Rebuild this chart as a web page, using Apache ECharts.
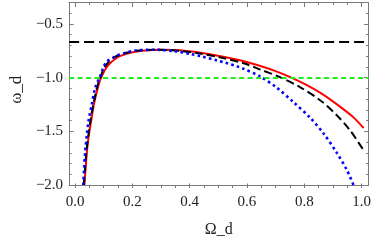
<!DOCTYPE html>
<html><head><meta charset="utf-8">
<script src="https://cdn.jsdelivr.net/npm/echarts@6/dist/echarts.min.js"></script>
<style>html,body{margin:0;padding:0;background:#fff}#c{width:374px;height:243px}</style>
</head><body><div id="c"></div>
<script>
// Data
const redX = [0.029, 0.037, 0.043, 0.052, 0.061, 0.075, 0.087, 0.11, 0.145, 0.185, 0.23, 0.295, 0.36, 0.433, 0.503, 0.57, 0.63, 0.687, 0.745, 0.803, 0.861, 0.918, 0.965, 1.0];
const redY = [-2.0, -1.71, -1.56, -1.41, -1.26, -1.10, -1.0, -0.89, -0.81, -0.77, -0.75, -0.74, -0.745, -0.768, -0.80, -0.838, -0.882, -0.932, -0.995, -1.07, -1.16, -1.27, -1.37, -1.469];
const blackX = [0.027, 0.035, 0.042, 0.05, 0.06, 0.072, 0.085, 0.105, 0.14, 0.18, 0.23, 0.29, 0.36, 0.43, 0.5, 0.583, 0.641, 0.711, 0.78, 0.849, 0.907, 0.953, 1.0];
const blackY = [-2.0, -1.71, -1.55, -1.40, -1.25, -1.10, -0.99, -0.88, -0.80, -0.765, -0.745, -0.74, -0.75, -0.775, -0.81, -0.866, -0.925, -0.997, -1.09, -1.21, -1.35, -1.49, -1.676];
const blueX = [0.025, 0.031, 0.043, 0.054, 0.066, 0.084, 0.104, 0.139, 0.173, 0.208, 0.271, 0.341, 0.399, 0.433, 0.491, 0.52, 0.56, 0.578, 0.641, 0.699, 0.757, 0.815, 0.861, 0.907, 0.942, 0.965];
const blueY = [-2.0, -1.71, -1.41, -1.26, -1.10, -0.985, -0.86, -0.80, -0.768, -0.747, -0.74, -0.753, -0.78, -0.80, -0.84, -0.862, -0.895, -0.912, -0.99, -1.095, -1.23, -1.375, -1.52, -1.70, -1.86, -2.0];
const hlineBlack = -2/3;
const hlineGreen = -1.0;
const xTickLabels = ['0.0', '0.2', '0.4', '0.6', '0.8', '1.0'];
const yTickLabels = ['−2.0', '−1.5', '−1.0', '−0.5'];
const xName = 'Ω_d';
const yName = 'ω_d';

const zip = (xs, ys) => xs.map((x, i) => [x, ys[i]]);
const frameColor = '#7a7a7a';
const labelColor = '#222';
const font = '"Liberation Serif", "DejaVu Serif", serif';
const X0 = -0.0243, X1 = 1.0173, Y0 = -2.0, Y1 = -0.3;

function yLabel(v) {
  const r = Math.round(v * 2) / 2;
  if (Math.abs(v - r) > 1e-6) return '';
  const s = r.toFixed(1).replace('-', '−');
  return yTickLabels.indexOf(s) >= 0 ? s : '';
}
function xLabel(v) {
  const s = v.toFixed(1);
  return xTickLabels.indexOf(s) >= 0 ? s : '';
}

const frameX = (pos) => ({
  gridIndex: 0, type: 'value', position: pos, min: X0, max: X1,
  axisLine: { show: true, onZero: false, lineStyle: { color: frameColor, width: 1 } },
  axisTick: { show: false }, axisLabel: { show: false }, splitLine: { show: false }
});
const tickX = (pos, showLabel) => ({
  gridIndex: 1, type: 'value', position: pos, min: 0, max: 1, interval: 0.2,
  axisLine: { show: false },
  axisTick: { show: true, inside: true, length: 4.5, lineStyle: { color: frameColor } },
  minorTick: { show: true, splitNumber: 4, length: 2.5, lineStyle: { color: frameColor } },
  axisLabel: { show: showLabel, margin: 7, color: labelColor, fontFamily: font, fontSize: 15, formatter: xLabel },
  splitLine: { show: false }, minorSplitLine: { show: false }
});
const tickY = (pos, major, showLabel) => ({
  gridIndex: 0, type: 'value', position: pos, min: Y0, max: Y1, interval: major ? 0.5 : 0.1,
  axisLine: { show: major, onZero: false, lineStyle: { color: frameColor, width: 1 } },
  axisTick: { show: true, inside: true, length: major ? 4.5 : 2.5, lineStyle: { color: frameColor } },
  axisLabel: { show: showLabel, margin: 6, color: labelColor, fontFamily: font, fontSize: 15, formatter: yLabel },
  splitLine: { show: false }
});

const xAxes = [frameX('bottom'), frameX('top'), tickX('bottom', true), tickX('top', false)];
xAxes[0].name = xName;
xAxes[0].nameLocation = 'middle';
xAxes[0].nameGap = 37;
xAxes[0].nameTextStyle = { color: labelColor, fontFamily: font, fontSize: 16 };

const yLeft = tickY('left', true, true);
yLeft.name = yName;
yLeft.nameLocation = 'middle';
yLeft.nameGap = 44;
yLeft.nameTextStyle = { color: labelColor, fontFamily: font, fontSize: 17, padding: [0, 0, 0, 8] };
const yAxes = [yLeft, tickY('left', false, false), tickY('right', true, false), tickY('right', false, false),
  { gridIndex: 1, type: 'value', min: Y0, max: Y1, show: false }];

const lineBase = { type: 'line', xAxisIndex: 0, yAxisIndex: 0, smooth: 0.3, showSymbol: false };

const chart = echarts.init(document.getElementById('c'), null, { renderer: 'canvas' });
chart.setOption({
  animation: false,
  backgroundColor: '#fff',
  grid: [
    { left: 68, right: 5.5, top: 2.5, bottom: 55 },
    { left: 75, right: 10.5, top: 2.5, bottom: 55 }
  ],
  xAxis: xAxes,
  yAxis: yAxes,
  series: [
    {
      type: 'line', xAxisIndex: 0, yAxisIndex: 0, data: [], silent: true,
      markLine: {
        silent: true, symbol: 'none', label: { show: false }, animation: false,
        data: [
          { yAxis: hlineBlack, lineStyle: { color: '#000', width: 2, type: [10, 5] } },
          { yAxis: hlineGreen, lineStyle: { color: '#1ef01e', width: 2, type: [5, 3.5] } }
        ]
      }
    },
    Object.assign({}, lineBase, { data: zip(redX, redY), lineStyle: { color: '#ff0000', width: 2 } }),
    Object.assign({}, lineBase, { data: zip(blackX, blackY), lineStyle: { color: '#000', width: 2, type: [8, 4] } }),
    Object.assign({}, lineBase, { data: zip(blueX, blueY), lineStyle: { color: '#0000ff', width: 2.6, type: [2.6, 3.2] } })
  ]
});
</script></body></html>
